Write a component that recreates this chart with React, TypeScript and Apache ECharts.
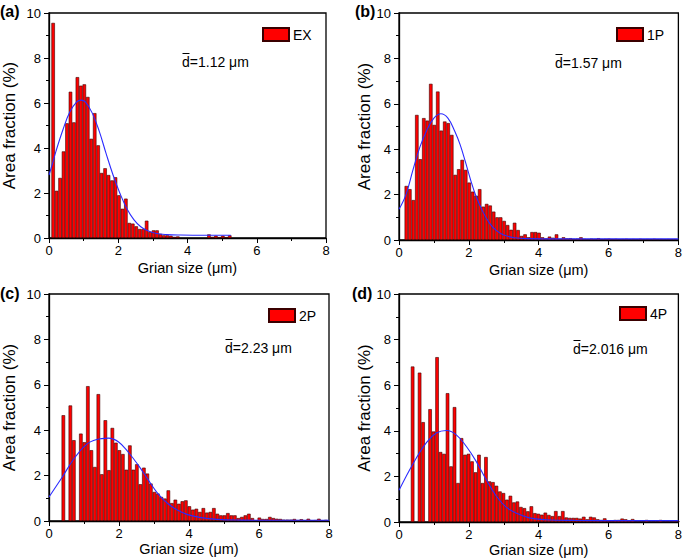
import React, { useEffect, useRef } from 'react';
import * as echarts from 'echarts';

// ---------- data ----------
const xTicks = [0, 2, 4, 6, 8];
const yTicks = [0, 2, 4, 6, 8, 10];

// (a) EX — bins of 0.1 µm, first bin starting at 0.07 µm
const exBinStart = 0.07;
const exValues = [
  9.56, 2.1, 2.67, 3.85, 5.1, 6.5, 5.14, 7.15, 6.77, 6.83,
  6.27, 4.41, 5.55, 4.12, 2.89, 3.1, 2.8, 2.56, 2.7, 1.9,
  1.3, 1.75, 0.67, 0.64, 0.52, 0.4, 0.4, 0.77, 0.27, 0.34,
  0.34, 0.18, 0.12, 0.12, 0.1, 0.05, 0.07, 0, 0, 0,
  0, 0, 0, 0, 0, 0.16, 0.05, 0.1, 0.04, 0.1,
  0.04, 0.12,
];
const exFitX = [0, 0.1, 0.2, 0.4, 0.6, 0.8, 0.92, 1.05, 1.25, 1.45, 1.65, 1.85, 2.05, 2.25, 2.45, 2.65, 2.85, 3.1, 3.4, 3.8, 4.5, 5.25];
const exFitY = [2.8, 3.3, 3.85, 4.8, 5.6, 6.05, 6.13, 6.05, 5.55, 4.75, 3.75, 2.8, 1.98, 1.3, 0.82, 0.5, 0.32, 0.2, 0.15, 0.13, 0.12, 0.12];

// (b) 1P
const p1BinStart = 0.16;
const p1Values = [
  2.38, 2.24, 1.76, 5.51, 3.56, 5.37, 5.26, 6.88, 5.07, 6.54,
  4.82, 5.22, 5.15, 4.63, 2.87, 3.12, 3.53, 3.09, 2.53, 2.13,
  1.95, 2.24, 1.47, 1.59, 1.52, 1.25, 1.0, 1.0, 0.84, 0.66,
  0.45, 0.76, 0.44, 0.18, 0.25, 0.12, 0.35, 0.35, 0.32, 0.12,
  0.07, 0.15, 0.1, 0.25, 0.05, 0.12, 0.07, 0.08, 0.05, 0.06,
  0.12, 0.05, 0.04, 0.06, 0.05, 0.08, 0.04, 0.05, 0.06, 0.04,
  0.05, 0.03, 0.04, 0.05, 0.03, 0.04, 0.03, 0.05, 0.03, 0.04,
  0.03, 0.05, 0.03, 0.04, 0.03, 0.04, 0.03, 0.04,
];
const p1FitX = [0, 0.2, 0.4, 0.6, 0.8, 1.0, 1.2, 1.4, 1.6, 1.75, 1.9, 2.05, 2.2, 2.4, 2.6, 2.8, 3.0, 3.3, 3.7, 4.5, 6, 8];
const p1FitY = [1.35, 2.0, 3.09, 4.1, 4.85, 5.37, 5.56, 5.37, 4.78, 4.2, 3.45, 2.65, 1.95, 1.25, 0.72, 0.4, 0.22, 0.1, 0.06, 0.05, 0.05, 0.05];

// (c) 2P
const p2BinStart = 0.36;
const p2Values = [
  4.66, 0, 5.09, 3.56, 0, 3.85, 3.47, 5.94, 3.12, 2.38,
  5.59, 2.06, 4.44, 2.24, 4.1, 3.45, 3.12, 2.95, 2.26, 3.33,
  2.26, 2.5, 1.62, 2.35, 2.09, 1.65, 1.28, 1.21, 1.06, 0.99,
  1.35, 0.79, 0.94, 0.76, 0.87, 0.91, 0.65, 0.5, 0.54, 0.4,
  0.57, 0.37, 0.4, 0.57, 0.32, 0.25, 0.25, 0.35, 0.25, 0.25,
  0.13, 0.18, 0.25, 0.32, 0.13, 0.03, 0.15, 0.09, 0.09, 0.18,
  0.13, 0.1, 0.09, 0.06, 0.06, 0.06, 0.09, 0.04, 0.08, 0.03,
  0.1, 0.03, 0.04, 0.1, 0.03, 0.05,
];
const p2FitX = [0, 0.38, 0.75, 1.13, 1.5, 1.7, 1.98, 2.26, 2.55, 2.83, 3.11, 3.4, 3.68, 3.96, 4.34, 4.8, 5.5, 6.5, 8];
const p2FitY = [1.06, 1.94, 2.82, 3.44, 3.63, 3.65, 3.49, 3.04, 2.46, 1.82, 1.21, 0.76, 0.47, 0.28, 0.15, 0.07, 0.04, 0.03, 0.03];

// (d) 4P
const p4BinStart = 0.34;
const p4Values = [
  6.82, 0, 6.55, 4.38, 0, 4.95, 3.97, 7.23, 3.07, 2.99,
  5.65, 2.44, 5.04, 1.71, 3.68, 2.95, 2.99, 2.66, 2.18, 2.95,
  1.71, 2.85, 1.78, 1.75, 1.59, 1.34, 1.27, 0.98, 1.15, 0.86,
  0.9, 0.66, 0.61, 0.47, 0.69, 0.39, 0.36, 0.32, 0.41, 0.31,
  0.26, 0.48, 0.26, 0.48, 0.2, 0.18, 0.18, 0.18, 0.15, 0.23,
  0.12, 0.23, 0.2, 0.12, 0.09, 0.16, 0.06, 0.06, 0.09, 0.09,
  0.15, 0.12, 0.06, 0.13, 0.03, 0.03, 0.03, 0.09, 0.03, 0.03,
  0.03, 0.09, 0.03, 0.03, 0.03, 0.05, 0.03,
];
const p4FitX = [0, 0.41, 0.79, 1.07, 1.36, 1.64, 1.93, 2.21, 2.5, 2.78, 3.06, 3.35, 3.73, 4.2, 5, 6.5, 8];
const p4FitY = [1.39, 2.58, 3.49, 3.9, 4.01, 3.82, 3.31, 2.66, 1.85, 1.15, 0.66, 0.39, 0.18, 0.1, 0.07, 0.06, 0.06];

const binWidth = 0.1;
const seriesNames = ['EX', '1P', '2P', '4P'];
const panelLabels = ['(a)', '(b)', '(c)', '(d)'];
const meanTexts = ['d=1.12 \u03bcm', 'd=1.57 \u03bcm', 'd=2.23 \u03bcm', 'd=2.016 \u03bcm'];
const xName = 'Grian size (\u03bcm)';
const yName = 'Area fraction (%)';

// ---------- layout ----------
const FONT = '"Liberation Sans", Arial, Helvetica, sans-serif';
const layouts = [
  { grid: { left: 47, top: 13, width: 279, height: 225 }, yGap: 31, xGap: 22, label: { left: 0, top: 3 }, legend: { left: 262, top: 27 }, mean: { x: 182, y: 62 } },
  { grid: { left: 399, top: 13, width: 280, height: 227 }, yGap: 23, xGap: 22, label: { left: 355, top: 3 }, legend: { left: 616, top: 27 }, mean: { x: 555, y: 63 } },
  { grid: { left: 47, top: 294, width: 282, height: 227 }, yGap: 31, xGap: 20, label: { left: 0, top: 285 }, legend: { left: 268, top: 308 }, mean: { x: 225, y: 348 } },
  { grid: { left: 399, top: 294, width: 281, height: 228 }, yGap: 23, xGap: 20, label: { left: 352, top: 285 }, legend: { left: 619, top: 306 }, mean: { x: 573, y: 349 } },
];

const panelData = [
  { start: exBinStart, values: exValues, fitX: exFitX, fitY: exFitY },
  { start: p1BinStart, values: p1Values, fitX: p1FitX, fitY: p1FitY },
  { start: p2BinStart, values: p2Values, fitX: p2FitX, fitY: p2FitY },
  { start: p4BinStart, values: p4Values, fitX: p4FitX, fitY: p4FitY },
];

function buildOption() {
  const grid: any[] = [];
  const xAxis: any[] = [];
  const yAxis: any[] = [];
  const series: any[] = [];
  const legend: any[] = [];
  const title: any[] = [];
  const graphic: any[] = [];

  const axisCommon = {
    axisLine: { show: true, onZero: false, lineStyle: { color: '#000', width: 1.3 } },
    axisTick: { show: true, inside: false, length: 5, lineStyle: { color: '#000', width: 1 } },
    minorTick: { show: true, splitNumber: 2, length: 3, lineStyle: { color: '#000', width: 1 } },
    splitLine: { show: false },
    minorSplitLine: { show: false },
    nameLocation: 'middle',
  };

  layouts.forEach((L, i) => {
    const d = panelData[i];
    grid.push({ ...L.grid, show: true, borderColor: '#000', borderWidth: 1.3, backgroundColor: 'transparent' });
    xAxis.push({
      ...axisCommon,
      gridIndex: i,
      type: 'value',
      min: xTicks[0],
      max: xTicks[xTicks.length - 1],
      interval: xTicks[1] - xTicks[0],
      name: xName,
      nameGap: L.xGap,
      nameTextStyle: { fontSize: 14.5, color: '#000', fontFamily: FONT },
      axisLabel: { fontSize: 13, color: '#000', margin: 6, fontFamily: FONT },
    });
    yAxis.push({
      ...axisCommon,
      gridIndex: i,
      type: 'value',
      min: yTicks[0],
      max: yTicks[yTicks.length - 1],
      interval: yTicks[1] - yTicks[0],
      name: yName,
      nameGap: L.yGap,
      nameTextStyle: { fontSize: 17, color: '#000', fontFamily: FONT },
      axisLabel: { fontSize: 13, color: '#000', margin: 8, fontFamily: FONT },
    });
    const pxPerUnit = L.grid.width / (xTicks[xTicks.length - 1] - xTicks[0]);
    const bars = d.values
      .map((v, k) => [d.start + binWidth * (k + 0.5), v])
      .filter((p) => p[1] > 0);
    series.push({
      type: 'bar',
      name: seriesNames[i],
      xAxisIndex: i,
      yAxisIndex: i,
      data: bars,
      barWidth: binWidth * pxPerUnit,
      itemStyle: { color: '#ff0000', borderColor: '#3a0000', borderWidth: 0.6 },
      emphasis: { disabled: true },
    });
    series.push({
      type: 'line',
      name: seriesNames[i] + ' fit',
      xAxisIndex: i,
      yAxisIndex: i,
      data: d.fitX.map((x, k) => [x, d.fitY[k]]),
      smooth: 0.4,
      showSymbol: false,
      symbol: 'none',
      lineStyle: { color: '#2a2aff', width: 1.1 },
      z: 5,
    });
    legend.push({
      data: [seriesNames[i]],
      left: L.legend.left,
      top: L.legend.top,
      padding: 0,
      itemWidth: 26,
      itemHeight: 13,
      itemGap: 4,
      icon: 'rect',
      selectedMode: false,
      textStyle: { fontSize: 14, color: '#000', fontFamily: FONT, padding: [0, 0, 0, -1] },
    });
    title.push({
      text: panelLabels[i],
      left: L.label.left,
      top: L.label.top,
      padding: 0,
      textStyle: { fontSize: 16, fontWeight: 'bold', color: '#000', fontFamily: FONT },
    });
    graphic.push({
      type: 'text',
      x: L.mean.x,
      y: L.mean.y,
      style: { text: meanTexts[i], font: `14px ${FONT}`, fill: '#000', verticalAlign: 'middle' },
    });
    // overline above the "d"
    graphic.push({
      type: 'line',
      shape: { x1: L.mean.x + 0.5, y1: L.mean.y - 8.5, x2: L.mean.x + 7.5, y2: L.mean.y - 8.5 },
      style: { stroke: '#000', lineWidth: 1 },
    });
  });

  return { animation: false, backgroundColor: '#fff', grid, xAxis, yAxis, series, legend, title, graphic };
}

export default function App() {
  const ref = useRef<HTMLDivElement>(null);
  useEffect(() => {
    if (!ref.current) return;
    const chart = echarts.init(ref.current, undefined, { renderer: 'svg' });
    chart.setOption(buildOption() as any);
    return () => chart.dispose();
  }, []);
  return <div ref={ref} style={{ position: 'absolute', left: 0, top: 0, width: 685, height: 560 }} />;
}
